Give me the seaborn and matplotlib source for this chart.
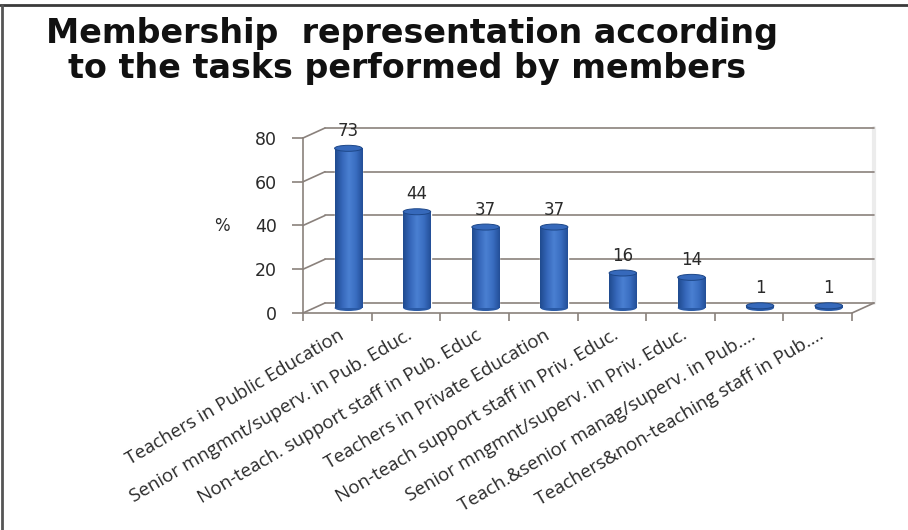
import numpy as np
import pandas as pd
import seaborn as sns
import matplotlib
matplotlib.use("Agg")
import matplotlib.pyplot as plt
import matplotlib.transforms as mtransforms
from matplotlib.patches import Ellipse
from matplotlib.lines import Line2D
from matplotlib.colors import LinearSegmentedColormap

# ---- data -------------------------------------------------------------
categories = [
    "Teachers in Public Education",
    "Senior mngmnt/superv. in Pub. Educ.",
    "Non-teach. support staff in Pub. Educ",
    "Teachers in Private Education",
    "Non-teach support staff in Priv. Educ.",
    "Senior mngmnt/superv. in Priv. Educ.",
    "Teach.&senior manag/superv. in Pub....",
    "Teachers&non-teaching staff in Pub....",
]
values = [73, 44, 37, 37, 16, 14, 1, 1]
y_ticks = [0, 20, 40, 60, 80]
title_lines = ["Membership  representation according",
               "to the tasks performed by members"]
y_label = "%"

# ---- style ------------------------------------------------------------
sns.set_theme(style="white")
plt.rcParams["font.family"] = ["DejaVu Sans"]

W, H, DPI = 908, 530, 100
GRID = "#8a817c"
TXT = "#2a2a2a"

fig = plt.figure(figsize=(W / DPI, H / DPI), dpi=DPI)
fig.patch.set_facecolor("white")


def px_rect(left, bottom_from_top, w, h):
    return [left / W, (H - bottom_from_top) / H, w / W, h / H]


X0, Y0, PW, PH = 303, 313, 549, 175   # front plane of the plot box (px)
DX, DY = 22, 10                       # depth of the floor (px)

ax = fig.add_axes(px_rect(X0, Y0, PW, PH))
ax_bar = fig.add_axes(px_rect(X0 + DX / 2, Y0 - DY / 2, PW, PH))

n = len(categories)
for a in (ax, ax_bar):
    a.set_xlim(-0.5, n - 0.5)
    a.set_ylim(0, 80)
ax.patch.set_visible(False)
ax_bar.patch.set_visible(False)

# ---- front axes: spines, ticks, labels --------------------------------
for side in ("top", "right"):
    ax.spines[side].set_visible(False)
for side in ("left", "bottom"):
    ax.spines[side].set_color(GRID)
    ax.spines[side].set_linewidth(1.2)

ax.set_yticks(y_ticks)
ax.set_yticklabels([str(t) for t in y_ticks])
ax.tick_params(axis="y", left=True, direction="out", length=8, width=1.2,
               color=GRID, pad=11, labelsize=12.5, labelcolor=TXT)

ax.set_xticks(range(n))
ax.set_xticklabels(categories, rotation=30.5, ha="right", va="center",
                   rotation_mode="anchor", fontsize=13.5, family="Open Sans",
                   color=TXT)
ax.tick_params(axis="x", which="major", bottom=True, length=0, pad=15)
ax.set_xticks(np.arange(-0.5, n, 1), minor=True)
ax.tick_params(axis="x", which="minor", bottom=True, direction="out",
               length=6, width=1.2, color=GRID)
ax.set_xlabel("")
ax.set_ylabel("")
nudge = mtransforms.ScaledTranslation(5 / DPI, 0, fig.dpi_scale_trans)
for lbl in ax.get_xticklabels():
    lbl.set_transform(lbl.get_transform() + nudge)

# ---- back wall grid and floor edges -----------------------------------
back = ax.transData + mtransforms.ScaledTranslation(DX / DPI, DY / DPI,
                                                    fig.dpi_scale_trans)
for t in y_ticks:
    ax.plot([-0.5, n - 0.5], [t, t], color=GRID, lw=1.2, transform=back,
            clip_on=False, zorder=0.5)
    x0, y0 = ax.transData.transform((-0.5, t))
    fig.add_artist(Line2D([x0, x0 + DX], [y0, y0 + DY], color=GRID, lw=1.2,
                          transform=mtransforms.IdentityTransform()))
xr, yr = ax.transData.transform((n - 0.5, 0))
fig.add_artist(Line2D([xr, xr + DX], [yr, yr + DY], color=GRID, lw=1.2,
                      transform=mtransforms.IdentityTransform()))
ax.plot([n - 0.5, n - 0.5], [0, 80], color="#ececec", lw=3, transform=back,
        clip_on=False, zorder=0.4)

# ---- cylinder bars ----------------------------------------------------
df = pd.DataFrame({"task": categories, "pct": values})
sns.barplot(data=df, x="task", y="pct", color="#2d60b2", saturation=1,
            width=0.4, ax=ax_bar)
ax_bar.set_xlim(-0.5, n - 0.5)
ax_bar.set_ylim(0, 80)

shade = LinearSegmentedColormap.from_list(
    "cyl", ["#1f4b8f", "#3566b9", "#4a80d2", "#3a6ec1", "#234f98"])
grad = np.linspace(0, 1, 64)[None, :]
cap_h = 6 / PH * 80
for patch, v in zip(list(ax_bar.patches), values):
    x0 = patch.get_x()
    w = patch.get_width()
    h = patch.get_height()
    cx = x0 + w / 2
    ax_bar.add_patch(Ellipse((cx, 0), w, cap_h, facecolor="#2a5aa6",
                             edgecolor="none", clip_on=False, zorder=1.5))
    ax_bar.imshow(grad, extent=[x0, x0 + w, 0, h], aspect="auto", cmap=shade,
                  interpolation="bilinear", zorder=2)
    ax_bar.add_patch(Ellipse((cx, h), w, cap_h, facecolor="#3669bb",
                             edgecolor="#1d4788", lw=0.7, clip_on=False,
                             zorder=3))
ax_bar.set_xlim(-0.5, n - 0.5)
ax_bar.set_ylim(0, 80)
ax_bar.bar_label(ax_bar.containers[0], labels=[str(v) for v in values],
                 padding=6, fontsize=12, color=TXT)
ax_bar.axis("off")

# ---- titles and frame --------------------------------------------------
for text, cx, base in zip(title_lines, (412, 407), (43, 78)):
    fig.text(cx / W, 1 - base / H, text, ha="center", va="baseline",
             fontsize=24, fontweight="bold", color="#111111")
fig.text(222 / W, 1 - 226 / H, y_label, ha="center", va="center",
         fontsize=12, color=TXT)

fig.add_artist(Line2D([0, 1], [1 - 5 / H, 1 - 5 / H], color="#3a3a3a",
                      lw=2, transform=fig.transFigure))
fig.add_artist(Line2D([1.5 / W, 1.5 / W], [0, 1 - 5 / H], color="#555555",
                      lw=2, transform=fig.transFigure))

fig.savefig("out.png", dpi=DPI)
